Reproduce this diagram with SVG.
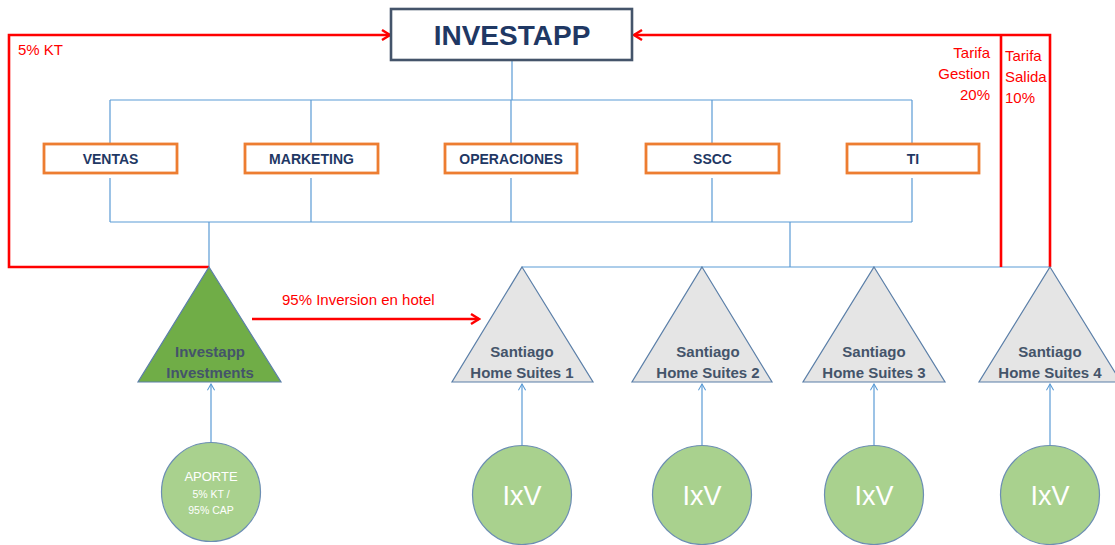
<svg xmlns="http://www.w3.org/2000/svg" width="1115" height="545" viewBox="0 0 1115 545">
  <style>
    .org { fill: none; stroke: #5B9BD5; stroke-width: 1.2; }
    .flow { fill: none; stroke: #FF0000; stroke-width: 2.6; }
    .up { fill: none; stroke: #5B9BD5; stroke-width: 1.2; }
    .dept rect { fill: #FFFFFF; stroke: #ED7D31; stroke-width: 2.8; }
    .dept text { font-family: "Liberation Sans", Arial, sans-serif; font-weight: bold; font-size: 14px; fill: #1F3864; text-anchor: middle; }
    .tri polygon { stroke: #5B7FA8; stroke-width: 1.2; }
    .tri text { font-family: "Liberation Sans", Arial, sans-serif; font-weight: bold; font-size: 15px; fill: #44546A; text-anchor: middle; }
    .circ circle { fill: #A9D18E; stroke: #6C8EB3; stroke-width: 1.2; }
    .ixv { font-family: "Liberation Sans", Arial, sans-serif; font-size: 27px; fill: #FFFFFF; text-anchor: middle; }
    .lbl { font-family: "Liberation Sans", Arial, sans-serif; font-size: 15px; fill: #FF0000; }
  </style>
  <defs>
    <marker id="redArrow" viewBox="0 0 12 12" refX="10" refY="6" markerWidth="12" markerHeight="12" markerUnits="userSpaceOnUse" orient="auto">
      <path d="M2,1 L10,6 L2,11" fill="none" stroke="#FF0000" stroke-width="2.4"/>
    </marker>
    <marker id="blueArrow" viewBox="0 0 10 10" refX="9" refY="5" markerWidth="9" markerHeight="9" markerUnits="userSpaceOnUse" orient="auto">
      <path d="M2,1 L9,5 L2,9" fill="none" stroke="#5B9BD5" stroke-width="1.2"/>
    </marker>
  </defs>

  <rect width="1115" height="545" fill="#FFFFFF"/>

  <!-- connectors -->
  <g id="connectors">
    <!-- org chart lines -->
    <path class="org" d="M512,61 V100 M110,100 H912 M110,100 V144 M311,100 V144 M511,100 V144 M712,100 V144 M912,100 V144"/>
    <path class="org" d="M110,178 V222 M311,178 V222 M511,178 V222 M712,178 V222 M912,178 V222 M110,222 H912"/>
    <path class="org" d="M209,222 V267 M790,222 V267 M522,267 H1050"/>
    <!-- money flows -->
    <path class="flow" d="M209,267 H9 V35 H390" marker-end="url(#redArrow)"/>
    <path class="flow" d="M1050,267 V35 H634" marker-end="url(#redArrow)"/>
    <path class="flow" d="M1001,35 V267"/>
    <path class="flow" d="M252,319 H479" marker-end="url(#redArrow)"/>
    <!-- contributions -->
    <path class="up" d="M211,442 V384" marker-end="url(#blueArrow)"/>
    <path class="up" d="M522,445 V384" marker-end="url(#blueArrow)"/>
    <path class="up" d="M702,445 V384" marker-end="url(#blueArrow)"/>
    <path class="up" d="M874,445 V384" marker-end="url(#blueArrow)"/>
    <path class="up" d="M1050,445 V384" marker-end="url(#blueArrow)"/>
  </g>

  <!-- labels on flows -->
  <text class="lbl" x="18" y="55">5% KT</text>
  <text class="lbl" x="990" y="58" text-anchor="end">Tarifa</text>
  <text class="lbl" x="990" y="79" text-anchor="end">Gestion</text>
  <text class="lbl" x="990" y="100" text-anchor="end">20%</text>
  <text class="lbl" x="1005" y="61">Tarifa</text>
  <text class="lbl" x="1005" y="82">Salida</text>
  <text class="lbl" x="1005" y="103">10%</text>
  <text class="lbl" x="282" y="305" font-size="16.5">95% Inversion en hotel</text>

  <!-- head office -->
  <g id="investapp">
    <rect x="391" y="9" width="241" height="51" fill="#FFFFFF" stroke="#44546A" stroke-width="2.6"/>
    <text x="512" y="45" font-family="'Liberation Sans', Arial, sans-serif" font-weight="bold" font-size="28" fill="#1F3864" text-anchor="middle">INVESTAPP</text>
  </g>

  <!-- departments -->
  <g id="ventas" class="dept"><rect x="44" y="144" width="133" height="29"/><text x="110.5" y="164">VENTAS</text></g>
  <g id="marketing" class="dept"><rect x="245" y="144" width="133" height="29"/><text x="311.5" y="164">MARKETING</text></g>
  <g id="operaciones" class="dept"><rect x="445" y="144" width="132" height="29"/><text x="511" y="164">OPERACIONES</text></g>
  <g id="sscc" class="dept"><rect x="646" y="144" width="133" height="29"/><text x="712.5" y="164">SSCC</text></g>
  <g id="ti" class="dept"><rect x="847" y="144" width="132" height="29"/><text x="913" y="164">TI</text></g>

  <!-- investment vehicle -->
  <g id="investapp-investments" class="tri">
    <polygon points="209,267 281,382 138,382" fill="#70AD47" stroke="#507E32"/>
    <text x="210" y="357">Investapp</text>
    <text x="210" y="378">Investments</text>
  </g>

  <!-- hotels -->
  <g id="hotel-1" class="tri">
    <polygon points="522,267 593,382 452,382" fill="#E5E5E5"/>
    <text x="522" y="357">Santiago</text>
    <text x="522" y="378">Home Suites 1</text>
  </g>
  <g id="hotel-2" class="tri">
    <polygon points="702,267 772,382 632,382" fill="#E5E5E5"/>
    <text x="708" y="357">Santiago</text>
    <text x="708" y="378">Home Suites 2</text>
  </g>
  <g id="hotel-3" class="tri">
    <polygon points="874,267 945,382 803,382" fill="#E5E5E5"/>
    <text x="874" y="357">Santiago</text>
    <text x="874" y="378">Home Suites 3</text>
  </g>
  <g id="hotel-4" class="tri">
    <polygon points="1050,267 1121,382 979,382" fill="#E5E5E5"/>
    <text x="1050" y="357">Santiago</text>
    <text x="1050" y="378">Home Suites 4</text>
  </g>

  <!-- investors -->
  <g id="aporte" class="circ">
    <circle cx="211" cy="492" r="49.5"/>
    <text x="211" y="481" font-family="'Liberation Sans', Arial, sans-serif" font-size="13" fill="#FFFFFF" text-anchor="middle">APORTE</text>
    <text x="211" y="498" font-family="'Liberation Sans', Arial, sans-serif" font-size="10.5" fill="#FFFFFF" text-anchor="middle">5% KT /</text>
    <text x="211" y="514" font-family="'Liberation Sans', Arial, sans-serif" font-size="10.5" fill="#FFFFFF" text-anchor="middle">95% CAP</text>
  </g>
  <g id="ixv-1" class="circ"><circle cx="522" cy="495" r="49.5"/><text class="ixv" x="522" y="505">IxV</text></g>
  <g id="ixv-2" class="circ"><circle cx="702" cy="495" r="49.5"/><text class="ixv" x="702" y="505">IxV</text></g>
  <g id="ixv-3" class="circ"><circle cx="874" cy="495" r="49.5"/><text class="ixv" x="874" y="505">IxV</text></g>
  <g id="ixv-4" class="circ"><circle cx="1050" cy="495" r="49.5"/><text class="ixv" x="1050" y="505">IxV</text></g>
</svg>
